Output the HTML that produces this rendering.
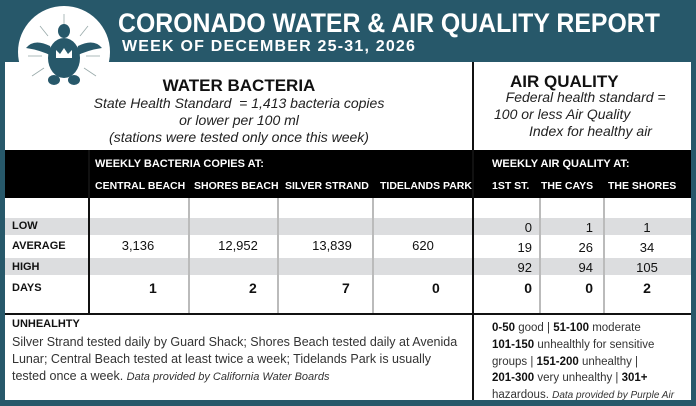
<!DOCTYPE html>
<html><head><style>
*{margin:0;padding:0;box-sizing:border-box}
body{width:696px;height:406px;background:#27586a;position:relative;overflow:hidden;font-family:"Liberation Sans",sans-serif;color:#111}
.a{position:absolute;white-space:nowrap}
.b{font-weight:bold}
.i{font-style:italic}
.w{color:#fff}
.vl{position:absolute;width:2px;background:#bbb}
</style></head><body>
<div class="a" style="left:5px;top:62px;width:686px;height:338px;background:#fff"></div>
<!-- logo -->
<div class="a" style="left:18px;top:6px;width:92px;height:92px;border-radius:50%;background:#fff"></div>
<svg class="a" style="left:18px;top:6px" width="92" height="92" viewBox="0 0 92 92">
<g stroke="#9aa" stroke-width="0.8">
<line x1="46" y1="20" x2="46" y2="8"/><line x1="30" y1="30" x2="22" y2="20"/><line x1="62" y1="30" x2="70" y2="20"/>
<line x1="24" y1="50" x2="10" y2="50"/><line x1="68" y1="50" x2="82" y2="50"/><line x1="26" y1="62" x2="14" y2="70"/><line x1="66" y1="62" x2="78" y2="70"/></g>
<g fill="#27586a"><ellipse cx="46" cy="25" rx="6" ry="7"/><ellipse cx="46" cy="52" rx="16" ry="20"/>
<path d="M32 40 Q16 32 8 42 Q22 44 34 50Z"/><path d="M60 40 Q76 32 84 42 Q70 44 58 50Z"/>
<ellipse cx="36" cy="74" rx="6" ry="5"/><ellipse cx="56" cy="74" rx="6" ry="5"/></g>
<path d="M38 52 L38 44 L42 48 L46 42 L50 48 L54 44 L54 52Z" fill="#fff"/>
</svg>
<div class="a b w" style="left:118px;top:8px;font-size:27px;transform:scaleX(0.92);transform-origin:left top">CORONADO WATER &amp; AIR QUALITY REPORT</div>
<div class="a b w" style="left:122px;top:38px;font-size:16px;letter-spacing:1.2px">WEEK OF DECEMBER 25-31, 2026</div>

<div class="a b" style="left:5px;width:468px;top:76px;text-align:center;font-size:17px">WATER BACTERIA</div>
<div class="a i" style="left:5px;width:468px;top:95px;text-align:center;font-size:14px;line-height:17px;color:#222">State Health Standard &nbsp;= 1,413 bacteria copies<br>or lower per 100 ml<br>(stations were tested only once this week)</div>
<div class="a b" style="left:510px;top:72px;font-size:17px">AIR QUALITY</div>
<div class="a i" style="left:494px;top:89px;font-size:14px;line-height:17px;color:#222">&nbsp;&nbsp;&nbsp;Federal health standard =<br>100 or less Air Quality<br>&nbsp;&nbsp;&nbsp;&nbsp;&nbsp;&nbsp;&nbsp;&nbsp;&nbsp;Index for healthy air</div>

<div class="a" style="left:5px;top:150px;width:686px;height:48px;background:#000"></div>
<div class="a b w" style="left:95px;top:158px;font-size:11px">WEEKLY BACTERIA COPIES AT:</div>
<div class="a b w" style="left:492px;top:158px;font-size:11px">WEEKLY AIR QUALITY AT:</div>
<div class="a b w" style="left:95px;top:180px;font-size:10.5px">CENTRAL BEACH</div>
<div class="a b w" style="left:194px;top:180px;font-size:10.5px">SHORES BEACH</div>
<div class="a b w" style="left:285px;top:180px;font-size:10.5px">SILVER STRAND</div>
<div class="a b w" style="left:380px;top:180px;font-size:10.5px">TIDELANDS PARK</div>
<div class="a b w" style="left:492px;top:180px;font-size:10.5px">1ST ST.</div>
<div class="a b w" style="left:541px;top:180px;font-size:10.5px">THE CAYS</div>
<div class="a b w" style="left:608px;top:180px;font-size:10.5px">THE SHORES</div>

<div class="a" style="left:5px;top:218px;width:686px;height:17px;background:#dcdddf"></div>
<div class="a" style="left:5px;top:258px;width:686px;height:17px;background:#dcdddf"></div>
<div class="vl" style="left:188px;top:198px;height:115px"></div>
<div class="vl" style="left:277px;top:198px;height:115px"></div>
<div class="vl" style="left:372px;top:198px;height:115px"></div>
<div class="vl" style="left:539px;top:198px;height:115px"></div>
<div class="vl" style="left:603px;top:198px;height:115px"></div>
<div class="a" style="left:88px;top:150px;width:2px;height:164px;background:#111"></div>
<div class="a" style="left:472px;top:62px;width:2px;height:338px;background:#111"></div>
<div class="a" style="left:5px;top:313px;width:686px;height:2px;background:#111"></div>

<div class="a b" style="left:12px;top:220px;font-size:11px">LOW</div>
<div class="a b" style="left:12px;top:240px;font-size:11px">AVERAGE</div>
<div class="a b" style="left:12px;top:261px;font-size:11px">HIGH</div>
<div class="a b" style="left:12px;top:282px;font-size:11px">DAYS</div>

<div class="a" style="left:88px;width:100px;top:238px;text-align:center;font-size:13px">3,136</div>
<div class="a" style="left:188px;width:100px;top:238px;text-align:center;font-size:13px">12,952</div>
<div class="a" style="left:282px;width:100px;top:238px;text-align:center;font-size:13px">13,839</div>
<div class="a" style="left:373px;width:100px;top:238px;text-align:center;font-size:13px">620</div>
<div class="a b" style="left:149px;top:280px;font-size:14px">1</div>
<div class="a b" style="left:249px;top:280px;font-size:14px">2</div>
<div class="a b" style="left:342px;top:280px;font-size:14px">7</div>
<div class="a b" style="left:432px;top:280px;font-size:14px">0</div>

<div class="a" style="left:470px;width:62px;top:218px;text-align:right;font-size:13px;line-height:20px">0<br>19<br>92</div>
<div class="a b" style="left:470px;width:62px;top:280px;text-align:right;font-size:14px">0</div>
<div class="a" style="left:539px;width:54px;top:218px;text-align:right;font-size:13px;line-height:20px">1<br>26<br>94</div>
<div class="a b" style="left:539px;width:54px;top:280px;text-align:right;font-size:14px">0</div>
<div class="a" style="left:603px;width:88px;top:218px;text-align:center;font-size:13px;line-height:20px">1<br>34<br>105</div>
<div class="a b" style="left:603px;width:88px;top:280px;text-align:center;font-size:14px">2</div>

<div class="a b" style="left:12px;top:318px;font-size:11px">UNHEALHTY</div>
<div class="a" style="left:12px;top:334px;font-size:12.5px;line-height:17px;color:#333;white-space:normal;width:455px">Silver Strand tested daily by Guard Shack; Shores Beach tested daily at Avenida Lunar; Central Beach tested at least twice a week; Tidelands Park is usually tested once a week. <span class="i" style="font-size:11px">Data provided by California Water Boards</span></div>
<div class="a" style="left:492px;top:320px;font-size:11.5px;line-height:16.8px;color:#333"><b style="color:#111">0-50</b> good | <b style="color:#111">51-100</b> moderate<br><b style="color:#111">101-150</b> unhealthly for sensitive<br>groups | <b style="color:#111">151-200</b> unhealthy |<br><b style="color:#111">201-300</b> very unhealthy | <b style="color:#111">301+</b><br>hazardous. <span class="i" style="font-size:10px">Data provided by Purple Air</span></div>
</body></html>
